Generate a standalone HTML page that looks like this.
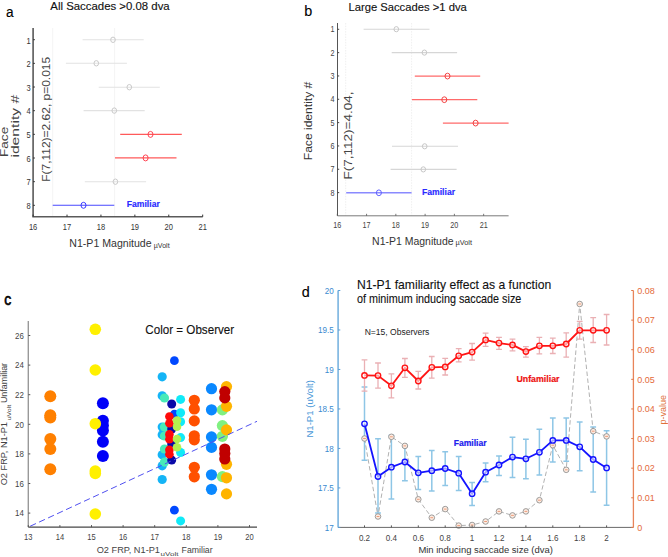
<!DOCTYPE html>
<html><head><meta charset="utf-8"><style>
html,body{margin:0;padding:0;background:#fff;width:668px;height:557px;overflow:hidden}
svg{display:block}
text{font-family:"Liberation Sans", sans-serif}
</style></head><body>
<svg width="668" height="557" viewBox="0 0 668 557">
<rect width="668" height="557" fill="#fff"/>
<line x1="52.7" y1="28" x2="52.7" y2="216" stroke="#f0f0f0" stroke-width="0.8" />
<line x1="114.6" y1="28" x2="114.6" y2="216" stroke="#f0f0f0" stroke-width="0.8" />
<line x1="82.6" y1="39.8" x2="143.7" y2="39.8" stroke="#e2e2e2" stroke-width="1.1" />
<ellipse cx="113" cy="39.8" rx="2.3" ry="2.7" fill="none" stroke="#c6c6c6" stroke-width="0.95"/>
<line x1="65.9" y1="63.3" x2="126.9" y2="63.3" stroke="#e2e2e2" stroke-width="1.1" />
<ellipse cx="96.3" cy="63.3" rx="2.3" ry="2.7" fill="none" stroke="#c6c6c6" stroke-width="0.95"/>
<line x1="98.7" y1="87.2" x2="159.8" y2="87.2" stroke="#e2e2e2" stroke-width="1.1" />
<ellipse cx="129.3" cy="87.2" rx="2.3" ry="2.7" fill="none" stroke="#c6c6c6" stroke-width="0.95"/>
<line x1="83.6" y1="110.6" x2="144.7" y2="110.6" stroke="#e2e2e2" stroke-width="1.1" />
<ellipse cx="114.3" cy="110.6" rx="2.3" ry="2.7" fill="none" stroke="#c6c6c6" stroke-width="0.95"/>
<line x1="120.2" y1="134.4" x2="181.8" y2="134.4" stroke="#ff5a5a" stroke-width="1.1" />
<ellipse cx="150.5" cy="134.4" rx="2.5" ry="3.0" fill="none" stroke="#ff3a4a" stroke-width="0.95"/>
<line x1="115" y1="157.9" x2="176.5" y2="157.9" stroke="#ff5a5a" stroke-width="1.1" />
<ellipse cx="145.6" cy="157.9" rx="2.5" ry="3.0" fill="none" stroke="#ff3a4a" stroke-width="0.95"/>
<line x1="84.8" y1="181.7" x2="146.1" y2="181.7" stroke="#e2e2e2" stroke-width="1.1" />
<ellipse cx="115.4" cy="181.7" rx="2.3" ry="2.7" fill="none" stroke="#c6c6c6" stroke-width="0.95"/>
<line x1="52.7" y1="205.3" x2="114.3" y2="205.3" stroke="#4848ff" stroke-width="1.1" />
<ellipse cx="83.5" cy="205.3" rx="2.5" ry="3.0" fill="none" stroke="#3030ff" stroke-width="0.95"/>
<path d="M33.1 28 V216.8 H202.7" fill="none" stroke="#5a5a5a" stroke-width="1.6"/>
<line x1="33.1" y1="39.7" x2="34.9" y2="39.7" stroke="#333" stroke-width="1" />
<text x="30.6" y="43.5" font-size="9.4" fill="#333" text-anchor="end" textLength="4.18" lengthAdjust="spacingAndGlyphs" >1</text>
<line x1="33.1" y1="63.36" x2="34.9" y2="63.36" stroke="#333" stroke-width="1" />
<text x="30.6" y="67.16" font-size="9.4" fill="#333" text-anchor="end" textLength="4.18" lengthAdjust="spacingAndGlyphs" >2</text>
<line x1="33.1" y1="87.02000000000001" x2="34.9" y2="87.02000000000001" stroke="#333" stroke-width="1" />
<text x="30.6" y="90.82000000000001" font-size="9.4" fill="#333" text-anchor="end" textLength="4.18" lengthAdjust="spacingAndGlyphs" >3</text>
<line x1="33.1" y1="110.68" x2="34.9" y2="110.68" stroke="#333" stroke-width="1" />
<text x="30.6" y="114.48" font-size="9.4" fill="#333" text-anchor="end" textLength="4.18" lengthAdjust="spacingAndGlyphs" >4</text>
<line x1="33.1" y1="134.34" x2="34.9" y2="134.34" stroke="#333" stroke-width="1" />
<text x="30.6" y="138.14000000000001" font-size="9.4" fill="#333" text-anchor="end" textLength="4.18" lengthAdjust="spacingAndGlyphs" >5</text>
<line x1="33.1" y1="158.0" x2="34.9" y2="158.0" stroke="#333" stroke-width="1" />
<text x="30.6" y="161.8" font-size="9.4" fill="#333" text-anchor="end" textLength="4.18" lengthAdjust="spacingAndGlyphs" >6</text>
<line x1="33.1" y1="181.66000000000003" x2="34.9" y2="181.66000000000003" stroke="#333" stroke-width="1" />
<text x="30.6" y="185.46000000000004" font-size="9.4" fill="#333" text-anchor="end" textLength="4.18" lengthAdjust="spacingAndGlyphs" >7</text>
<line x1="33.1" y1="205.32" x2="34.9" y2="205.32" stroke="#333" stroke-width="1" />
<text x="30.6" y="209.12" font-size="9.4" fill="#333" text-anchor="end" textLength="4.18" lengthAdjust="spacingAndGlyphs" >8</text>
<line x1="33.1" y1="216.8" x2="33.1" y2="214.60000000000002" stroke="#333" stroke-width="1" />
<text x="33.1" y="229.5" font-size="9.2" fill="#333" text-anchor="middle" textLength="8.39" lengthAdjust="spacingAndGlyphs" >16</text>
<line x1="67.02000000000001" y1="216.8" x2="67.02000000000001" y2="214.60000000000002" stroke="#333" stroke-width="1" />
<text x="67.02000000000001" y="229.5" font-size="9.2" fill="#333" text-anchor="middle" textLength="8.39" lengthAdjust="spacingAndGlyphs" >17</text>
<line x1="100.94" y1="216.8" x2="100.94" y2="214.60000000000002" stroke="#333" stroke-width="1" />
<text x="100.94" y="229.5" font-size="9.2" fill="#333" text-anchor="middle" textLength="8.39" lengthAdjust="spacingAndGlyphs" >18</text>
<line x1="134.86" y1="216.8" x2="134.86" y2="214.60000000000002" stroke="#333" stroke-width="1" />
<text x="134.86" y="229.5" font-size="9.2" fill="#333" text-anchor="middle" textLength="8.39" lengthAdjust="spacingAndGlyphs" >19</text>
<line x1="168.78" y1="216.8" x2="168.78" y2="214.60000000000002" stroke="#333" stroke-width="1" />
<text x="168.78" y="229.5" font-size="9.2" fill="#333" text-anchor="middle" textLength="8.39" lengthAdjust="spacingAndGlyphs" >20</text>
<line x1="202.70000000000002" y1="216.8" x2="202.70000000000002" y2="214.60000000000002" stroke="#333" stroke-width="1" />
<text x="202.70000000000002" y="229.5" font-size="9.2" fill="#333" text-anchor="middle" textLength="8.39" lengthAdjust="spacingAndGlyphs" >21</text>
<text x="6.0" y="16.8" font-size="15.5" fill="#000" text-anchor="start" stroke="#000" stroke-width="0.12" textLength="7.6" lengthAdjust="spacingAndGlyphs" >a</text>
<text x="50.3" y="9.9" font-size="10.8" fill="#111" text-anchor="start" stroke="#111" stroke-width="0.12" textLength="119.4" lengthAdjust="spacingAndGlyphs" >All Saccades &gt;0.08 dva</text>
<text x="69.3" y="246.5" font-size="10.5" fill="#333" text-anchor="start" textLength="82.3" lengthAdjust="spacingAndGlyphs" >N1-P1 Magnitude</text>
<text x="153.8" y="247.6" font-size="6.4" fill="#333" text-anchor="start" textLength="15.8" lengthAdjust="spacingAndGlyphs" >µVolt</text>
<text x="49.6" y="181.8" font-size="11.4" fill="#444" text-anchor="start" textLength="125" lengthAdjust="spacingAndGlyphs" transform="rotate(-90 49.6 181.8)" >F(7,112)=2.62, p=0.015</text>
<text x="7.8" y="157.0" font-size="10" fill="#444" text-anchor="start" textLength="30.2" lengthAdjust="spacingAndGlyphs" transform="rotate(-90 7.8 157.0)" >Face</text>
<text x="19.3" y="157.6" font-size="10" fill="#444" text-anchor="start" textLength="62.8" lengthAdjust="spacingAndGlyphs" transform="rotate(-90 19.3 157.6)" >identity #</text>
<text x="126.7" y="206.8" font-size="9.4" fill="#2a2aff" text-anchor="start" stroke="#2a2aff" stroke-width="0.15" font-weight="bold" textLength="33.1" lengthAdjust="spacingAndGlyphs" >Familiar</text>
<line x1="345.7" y1="23" x2="345.7" y2="215.5" stroke="#ebebeb" stroke-width="0.8" stroke-dasharray="1.5 1.2"/>
<line x1="411.6" y1="23" x2="411.6" y2="215.5" stroke="#ebebeb" stroke-width="0.8" stroke-dasharray="1.5 1.2"/>
<line x1="363.6" y1="29.2" x2="429.5" y2="29.2" stroke="#d6d6d6" stroke-width="1.1" />
<ellipse cx="396.3" cy="29.2" rx="2.3" ry="2.6" fill="none" stroke="#c4c4c4" stroke-width="0.95"/>
<line x1="391.7" y1="52.6" x2="457.1" y2="52.6" stroke="#d6d6d6" stroke-width="1.1" />
<ellipse cx="424.4" cy="52.6" rx="2.3" ry="2.6" fill="none" stroke="#c4c4c4" stroke-width="0.95"/>
<line x1="414.8" y1="76.1" x2="480.2" y2="76.1" stroke="#ff6a6a" stroke-width="1.3" />
<ellipse cx="447.5" cy="76.1" rx="2.5" ry="2.9" fill="none" stroke="#f03a3a" stroke-width="0.95"/>
<line x1="411.9" y1="99.7" x2="477.3" y2="99.7" stroke="#ff6a6a" stroke-width="1.3" />
<ellipse cx="444.3" cy="99.7" rx="2.5" ry="2.9" fill="none" stroke="#f03a3a" stroke-width="0.95"/>
<line x1="442.9" y1="123.1" x2="508.6" y2="123.1" stroke="#ff6a6a" stroke-width="1.3" />
<ellipse cx="475.6" cy="123.1" rx="2.5" ry="2.9" fill="none" stroke="#f03a3a" stroke-width="0.95"/>
<line x1="392" y1="146.3" x2="458" y2="146.3" stroke="#d6d6d6" stroke-width="1.1" />
<ellipse cx="424.7" cy="146.3" rx="2.3" ry="2.6" fill="none" stroke="#c4c4c4" stroke-width="0.95"/>
<line x1="390.6" y1="169.4" x2="456.6" y2="169.4" stroke="#d6d6d6" stroke-width="1.1" />
<ellipse cx="423.3" cy="169.4" rx="2.3" ry="2.6" fill="none" stroke="#c4c4c4" stroke-width="0.95"/>
<line x1="346.2" y1="192.8" x2="411.6" y2="192.8" stroke="#8a8aff" stroke-width="1.6" />
<ellipse cx="378.9" cy="192.8" rx="2.5" ry="2.9" fill="none" stroke="#5a5aff" stroke-width="0.95"/>
<path d="M337.5 23 V215.8" fill="none" stroke="#555" stroke-width="1"/>
<path d="M337.5 215.8 H508.6" fill="none" stroke="#7a7a7a" stroke-width="1"/>
<line x1="337.5" y1="29.3" x2="339.2" y2="29.3" stroke="#444" stroke-width="1" />
<text x="334.6" y="32.3" font-size="8.4" fill="#444" text-anchor="end" textLength="4.02" lengthAdjust="spacingAndGlyphs" >1</text>
<line x1="337.5" y1="52.629999999999995" x2="339.2" y2="52.629999999999995" stroke="#444" stroke-width="1" />
<text x="334.6" y="55.629999999999995" font-size="8.4" fill="#444" text-anchor="end" textLength="4.02" lengthAdjust="spacingAndGlyphs" >2</text>
<line x1="337.5" y1="75.96" x2="339.2" y2="75.96" stroke="#444" stroke-width="1" />
<text x="334.6" y="78.96" font-size="8.4" fill="#444" text-anchor="end" textLength="4.02" lengthAdjust="spacingAndGlyphs" >3</text>
<line x1="337.5" y1="99.28999999999999" x2="339.2" y2="99.28999999999999" stroke="#444" stroke-width="1" />
<text x="334.6" y="102.28999999999999" font-size="8.4" fill="#444" text-anchor="end" textLength="4.02" lengthAdjust="spacingAndGlyphs" >4</text>
<line x1="337.5" y1="122.61999999999999" x2="339.2" y2="122.61999999999999" stroke="#444" stroke-width="1" />
<text x="334.6" y="125.61999999999999" font-size="8.4" fill="#444" text-anchor="end" textLength="4.02" lengthAdjust="spacingAndGlyphs" >5</text>
<line x1="337.5" y1="145.95" x2="339.2" y2="145.95" stroke="#444" stroke-width="1" />
<text x="334.6" y="148.95" font-size="8.4" fill="#444" text-anchor="end" textLength="4.02" lengthAdjust="spacingAndGlyphs" >6</text>
<line x1="337.5" y1="169.28" x2="339.2" y2="169.28" stroke="#444" stroke-width="1" />
<text x="334.6" y="172.28" font-size="8.4" fill="#444" text-anchor="end" textLength="4.02" lengthAdjust="spacingAndGlyphs" >7</text>
<line x1="337.5" y1="192.61" x2="339.2" y2="192.61" stroke="#444" stroke-width="1" />
<text x="334.6" y="195.61" font-size="8.4" fill="#444" text-anchor="end" textLength="4.02" lengthAdjust="spacingAndGlyphs" >8</text>
<line x1="337.3" y1="215.8" x2="337.3" y2="213.8" stroke="#555" stroke-width="0.8" />
<text x="337.3" y="228.4" font-size="8.4" fill="#444" text-anchor="middle" textLength="8.03" lengthAdjust="spacingAndGlyphs" >16</text>
<line x1="366.57" y1="215.8" x2="366.57" y2="213.8" stroke="#555" stroke-width="0.8" />
<text x="366.57" y="228.4" font-size="8.4" fill="#444" text-anchor="middle" textLength="8.03" lengthAdjust="spacingAndGlyphs" >17</text>
<line x1="395.84000000000003" y1="215.8" x2="395.84000000000003" y2="213.8" stroke="#555" stroke-width="0.8" />
<text x="395.84000000000003" y="228.4" font-size="8.4" fill="#444" text-anchor="middle" textLength="8.03" lengthAdjust="spacingAndGlyphs" >18</text>
<line x1="425.11" y1="215.8" x2="425.11" y2="213.8" stroke="#555" stroke-width="0.8" />
<text x="425.11" y="228.4" font-size="8.4" fill="#444" text-anchor="middle" textLength="8.03" lengthAdjust="spacingAndGlyphs" >19</text>
<line x1="454.38" y1="215.8" x2="454.38" y2="213.8" stroke="#555" stroke-width="0.8" />
<text x="454.38" y="228.4" font-size="8.4" fill="#444" text-anchor="middle" textLength="8.03" lengthAdjust="spacingAndGlyphs" >20</text>
<line x1="483.65" y1="215.8" x2="483.65" y2="213.8" stroke="#555" stroke-width="0.8" />
<text x="483.65" y="228.4" font-size="8.4" fill="#444" text-anchor="middle" textLength="8.03" lengthAdjust="spacingAndGlyphs" >21</text>
<text x="304.3" y="15.7" font-size="15.5" fill="#000" text-anchor="start" stroke="#000" stroke-width="0.12" textLength="8.0" lengthAdjust="spacingAndGlyphs" >b</text>
<text x="348.4" y="10.9" font-size="10.8" fill="#111" text-anchor="start" stroke="#111" stroke-width="0.12" textLength="118.4" lengthAdjust="spacingAndGlyphs" >Large Saccades &gt;1 dva</text>
<text x="372.1" y="244.6" font-size="10.5" fill="#333" text-anchor="start" textLength="81.5" lengthAdjust="spacingAndGlyphs" >N1-P1 Magnitude</text>
<text x="455.5" y="245.4" font-size="6.4" fill="#333" text-anchor="start" textLength="16.5" lengthAdjust="spacingAndGlyphs" >µVolt</text>
<text x="351.9" y="179.4" font-size="10.6" fill="#444" text-anchor="start" textLength="87.8" lengthAdjust="spacingAndGlyphs" transform="rotate(-90 351.9 179.4)" >F(7,112)=4.04,</text>
<text x="312.2" y="160.2" font-size="11" fill="#333" text-anchor="start" textLength="78.5" lengthAdjust="spacingAndGlyphs" transform="rotate(-90 312.2 160.2)" >Face identity #</text>
<text x="421.9" y="194.9" font-size="9.4" fill="#2a2aff" text-anchor="start" stroke="#2a2aff" stroke-width="0.15" font-weight="bold" textLength="33.2" lengthAdjust="spacingAndGlyphs" >Familiar</text>
<circle cx="50.3" cy="396.2" r="6.0" fill="#ff8000"/>
<circle cx="50.3" cy="415.2" r="6.0" fill="#ff8000"/>
<circle cx="50.3" cy="417.5" r="6.0" fill="#ff8000"/>
<circle cx="50.3" cy="438.9" r="6.0" fill="#ff8000"/>
<circle cx="50.3" cy="449.1" r="6.0" fill="#ff8000"/>
<circle cx="50.3" cy="469.2" r="6.0" fill="#ff8000"/>
<circle cx="95.3" cy="329.3" r="5.8" fill="#fff000"/>
<circle cx="95.3" cy="370.0" r="5.8" fill="#fff000"/>
<circle cx="95.3" cy="471.0" r="5.8" fill="#fff000"/>
<circle cx="95.3" cy="473.4" r="5.8" fill="#fff000"/>
<circle cx="95.3" cy="514.0" r="5.8" fill="#fff000"/>
<circle cx="102.9" cy="403.3" r="6.0" fill="#0000f8"/>
<circle cx="102.9" cy="420.8" r="6.0" fill="#0000f8"/>
<circle cx="102.9" cy="425.5" r="6.0" fill="#0000f8"/>
<circle cx="102.9" cy="430.5" r="6.0" fill="#0000f8"/>
<circle cx="102.9" cy="441.8" r="6.0" fill="#0000f8"/>
<circle cx="102.9" cy="456.1" r="6.0" fill="#0000f8"/>
<circle cx="95.3" cy="423.7" r="5.8" fill="#fff000"/>
<circle cx="162.2" cy="376.8" r="4.6" fill="#14b4f6"/>
<circle cx="162.2" cy="395.8" r="4.6" fill="#14b4f6"/>
<circle cx="162.2" cy="427.0" r="4.6" fill="#14b4f6"/>
<circle cx="162.2" cy="434.8" r="4.6" fill="#14b4f6"/>
<circle cx="162.2" cy="454.8" r="4.6" fill="#14b4f6"/>
<circle cx="162.2" cy="465.8" r="4.6" fill="#14b4f6"/>
<circle cx="162.2" cy="479.5" r="4.6" fill="#14b4f6"/>
<circle cx="164.5" cy="398.0" r="4.6" fill="#48eab8"/>
<circle cx="164.5" cy="427.1" r="4.6" fill="#48eab8"/>
<circle cx="164.5" cy="436.0" r="4.6" fill="#48eab8"/>
<circle cx="164.5" cy="449.0" r="4.6" fill="#48eab8"/>
<circle cx="164.5" cy="462.1" r="4.6" fill="#48eab8"/>
<circle cx="171.7" cy="404.0" r="4.5" fill="#0a0aa8"/>
<circle cx="171.7" cy="429.0" r="4.5" fill="#0a0aa8"/>
<circle cx="171.7" cy="444.0" r="4.5" fill="#0a0aa8"/>
<circle cx="171.7" cy="460.1" r="4.5" fill="#0a0aa8"/>
<circle cx="174.4" cy="360.7" r="4.4" fill="#0048ff"/>
<circle cx="174.4" cy="414.2" r="4.4" fill="#0048ff"/>
<circle cx="174.4" cy="510.2" r="4.4" fill="#0048ff"/>
<circle cx="169.4" cy="416.5" r="4.3" fill="#ff0a0a"/>
<circle cx="169.4" cy="423.2" r="4.3" fill="#ff0a0a"/>
<circle cx="169.4" cy="434.4" r="4.3" fill="#ff0a0a"/>
<circle cx="169.4" cy="439.2" r="4.3" fill="#ff0a0a"/>
<circle cx="169.4" cy="449.7" r="4.3" fill="#ff0a0a"/>
<circle cx="169.4" cy="454.3" r="4.3" fill="#ff0a0a"/>
<circle cx="180.6" cy="399.4" r="4.5" fill="#10eaf8"/>
<circle cx="180.6" cy="412.8" r="4.5" fill="#10eaf8"/>
<circle cx="180.6" cy="421.7" r="4.5" fill="#10eaf8"/>
<circle cx="180.6" cy="437.6" r="4.5" fill="#10eaf8"/>
<circle cx="180.6" cy="452.5" r="4.5" fill="#10eaf8"/>
<circle cx="180.6" cy="520.9" r="4.5" fill="#10eaf8"/>
<circle cx="177.0" cy="420.6" r="4.3" fill="#b4f050"/>
<circle cx="177.0" cy="426.8" r="4.3" fill="#b4f050"/>
<circle cx="177.0" cy="439.0" r="4.3" fill="#b4f050"/>
<circle cx="177.0" cy="447.2" r="4.3" fill="#b4f050"/>
<circle cx="194.3" cy="400.3" r="5.6" fill="#ff5000"/>
<circle cx="194.3" cy="409.0" r="5.6" fill="#ff5000"/>
<circle cx="194.3" cy="420.9" r="5.6" fill="#ff5000"/>
<circle cx="194.3" cy="435.8" r="5.6" fill="#ff5000"/>
<circle cx="194.3" cy="439.8" r="5.6" fill="#ff5000"/>
<circle cx="194.3" cy="467.3" r="5.6" fill="#ff5000"/>
<circle cx="194.3" cy="476.8" r="5.6" fill="#ff5000"/>
<circle cx="211.5" cy="388.7" r="5.6" fill="#0a88ff"/>
<circle cx="211.5" cy="409.8" r="5.6" fill="#0a88ff"/>
<circle cx="211.5" cy="436.9" r="5.6" fill="#0a88ff"/>
<circle cx="211.5" cy="447.4" r="5.6" fill="#0a88ff"/>
<circle cx="211.5" cy="474.8" r="5.6" fill="#0a88ff"/>
<circle cx="211.5" cy="489.3" r="5.6" fill="#0a88ff"/>
<circle cx="222.4" cy="409.9" r="5.6" fill="#80f080"/>
<circle cx="222.4" cy="425.6" r="5.6" fill="#80f080"/>
<circle cx="222.4" cy="436.3" r="5.6" fill="#80f080"/>
<circle cx="222.4" cy="476.6" r="5.6" fill="#80f080"/>
<circle cx="226.5" cy="386.6" r="5.6" fill="#ffb400"/>
<circle cx="226.5" cy="406.3" r="5.6" fill="#ffb400"/>
<circle cx="226.5" cy="429.9" r="5.6" fill="#ffb400"/>
<circle cx="226.5" cy="464.3" r="5.6" fill="#ffb400"/>
<circle cx="226.5" cy="477.8" r="5.6" fill="#ffb400"/>
<circle cx="226.5" cy="493.9" r="5.6" fill="#ffb400"/>
<circle cx="224.8" cy="391.6" r="5.6" fill="#c00000"/>
<circle cx="224.8" cy="397.9" r="5.6" fill="#c00000"/>
<circle cx="224.8" cy="449.0" r="5.6" fill="#c00000"/>
<circle cx="224.8" cy="453.5" r="5.6" fill="#c00000"/>
<circle cx="224.8" cy="459.0" r="5.6" fill="#c00000"/>
<line x1="28.3" y1="527.1" x2="257" y2="421.3" stroke="#5050f0" stroke-width="1" stroke-dasharray="6.4 3.5" stroke-dashoffset="-2"/>
<path d="M28.3 321 V527.1" stroke="#999" stroke-width="1.4" fill="none"/>
<path d="M28.3 527.1 H257" stroke="#474747" stroke-width="1.3" fill="none"/>
<line x1="28.3" y1="513.1" x2="30.3" y2="513.1" stroke="#555" stroke-width="1" />
<text x="23.9" y="516.4" font-size="9.2" fill="#444" text-anchor="end" textLength="8.8" lengthAdjust="spacingAndGlyphs" >14</text>
<line x1="28.3" y1="483.5" x2="30.3" y2="483.5" stroke="#555" stroke-width="1" />
<text x="23.9" y="486.8" font-size="9.2" fill="#444" text-anchor="end" textLength="8.8" lengthAdjust="spacingAndGlyphs" >16</text>
<line x1="28.3" y1="453.90000000000003" x2="30.3" y2="453.90000000000003" stroke="#555" stroke-width="1" />
<text x="23.9" y="457.20000000000005" font-size="9.2" fill="#444" text-anchor="end" textLength="8.8" lengthAdjust="spacingAndGlyphs" >18</text>
<line x1="28.3" y1="424.3" x2="30.3" y2="424.3" stroke="#555" stroke-width="1" />
<text x="23.9" y="427.6" font-size="9.2" fill="#444" text-anchor="end" textLength="8.8" lengthAdjust="spacingAndGlyphs" >20</text>
<line x1="28.3" y1="394.70000000000005" x2="30.3" y2="394.70000000000005" stroke="#555" stroke-width="1" />
<text x="23.9" y="398.00000000000006" font-size="9.2" fill="#444" text-anchor="end" textLength="8.8" lengthAdjust="spacingAndGlyphs" >22</text>
<line x1="28.3" y1="365.1" x2="30.3" y2="365.1" stroke="#555" stroke-width="1" />
<text x="23.9" y="368.40000000000003" font-size="9.2" fill="#444" text-anchor="end" textLength="8.8" lengthAdjust="spacingAndGlyphs" >24</text>
<line x1="28.3" y1="335.5" x2="30.3" y2="335.5" stroke="#555" stroke-width="1" />
<text x="23.9" y="338.8" font-size="9.2" fill="#444" text-anchor="end" textLength="8.8" lengthAdjust="spacingAndGlyphs" >26</text>
<line x1="28.3" y1="527.1" x2="28.3" y2="525.1" stroke="#555" stroke-width="1" />
<text x="28.3" y="539.9" font-size="8.8" fill="#444" text-anchor="middle" textLength="8.42" lengthAdjust="spacingAndGlyphs" >13</text>
<line x1="59.900000000000006" y1="527.1" x2="59.900000000000006" y2="525.1" stroke="#555" stroke-width="1" />
<text x="59.900000000000006" y="539.9" font-size="8.8" fill="#444" text-anchor="middle" textLength="8.42" lengthAdjust="spacingAndGlyphs" >14</text>
<line x1="91.5" y1="527.1" x2="91.5" y2="525.1" stroke="#555" stroke-width="1" />
<text x="91.5" y="539.9" font-size="8.8" fill="#444" text-anchor="middle" textLength="8.42" lengthAdjust="spacingAndGlyphs" >15</text>
<line x1="123.10000000000001" y1="527.1" x2="123.10000000000001" y2="525.1" stroke="#555" stroke-width="1" />
<text x="123.10000000000001" y="539.9" font-size="8.8" fill="#444" text-anchor="middle" textLength="8.42" lengthAdjust="spacingAndGlyphs" >16</text>
<line x1="154.70000000000002" y1="527.1" x2="154.70000000000002" y2="525.1" stroke="#555" stroke-width="1" />
<text x="154.70000000000002" y="539.9" font-size="8.8" fill="#444" text-anchor="middle" textLength="8.42" lengthAdjust="spacingAndGlyphs" >17</text>
<line x1="186.3" y1="527.1" x2="186.3" y2="525.1" stroke="#555" stroke-width="1" />
<text x="186.3" y="539.9" font-size="8.8" fill="#444" text-anchor="middle" textLength="8.42" lengthAdjust="spacingAndGlyphs" >18</text>
<line x1="217.90000000000003" y1="527.1" x2="217.90000000000003" y2="525.1" stroke="#555" stroke-width="1" />
<text x="217.90000000000003" y="539.9" font-size="8.8" fill="#444" text-anchor="middle" textLength="8.42" lengthAdjust="spacingAndGlyphs" >19</text>
<line x1="249.50000000000003" y1="527.1" x2="249.50000000000003" y2="525.1" stroke="#555" stroke-width="1" />
<text x="249.50000000000003" y="539.9" font-size="8.8" fill="#444" text-anchor="middle" textLength="8.42" lengthAdjust="spacingAndGlyphs" >20</text>
<text x="4.3" y="304.6" font-size="15.8" fill="#000" text-anchor="start" stroke="#000" stroke-width="0.6" textLength="7.0" lengthAdjust="spacingAndGlyphs" >c</text>
<text x="145.3" y="334.2" font-size="12.4" fill="#111" text-anchor="start" stroke="#111" stroke-width="0.12" textLength="88.9" lengthAdjust="spacingAndGlyphs" >Color = Observer</text>
<text x="96.7" y="552.7" font-size="8.6" fill="#444" text-anchor="start" textLength="63.3" lengthAdjust="spacingAndGlyphs" >O2 FRP, N1-P1</text>
<text x="160.6" y="556.2" font-size="6.2" fill="#444" text-anchor="start" textLength="17.8" lengthAdjust="spacingAndGlyphs" >uVolt</text>
<text x="181.6" y="552.7" font-size="8.6" fill="#444" text-anchor="start" textLength="31" lengthAdjust="spacingAndGlyphs" >Familiar</text>
<text x="6.6" y="485.3" font-size="8.6" fill="#444" text-anchor="start" textLength="63.3" lengthAdjust="spacingAndGlyphs" transform="rotate(-90 6.6 485.3)" >O2 FRP, N1-P1</text>
<text x="10.6" y="420.3" font-size="6.2" fill="#444" text-anchor="start" textLength="15.5" lengthAdjust="spacingAndGlyphs" transform="rotate(-90 10.6 420.3)" >uVolt</text>
<text x="6.6" y="403.1" font-size="8.6" fill="#444" text-anchor="start" textLength="40.2" lengthAdjust="spacingAndGlyphs" transform="rotate(-90 6.6 403.1)" >Unfamiliar</text>
<path d="M364.5 386.9V460.3M361.6 386.9H367.4M361.6 460.3H367.4M378.0 438.8V513M375.1 438.8H380.9M375.1 513H380.9M391.4 435.5V499.1M388.5 435.5H394.3M388.5 499.1H394.3M404.9 445.2V480.8M402.0 445.2H407.8M402.0 480.8H407.8M418.3 456.4V489.4M415.4 456.4H421.2M415.4 489.4H421.2M431.8 450.6V490.9M428.9 450.6H434.6M428.9 490.9H434.6M445.2 451.7V485.5M442.3 451.7H448.1M442.3 485.5H448.1M458.7 456.4V490.5M455.8 456.4H461.6M455.8 490.5H461.6M472.1 482.5V505.5M469.2 482.5H475.0M469.2 505.5H475.0M485.6 463.1V481.8M482.7 463.1H488.5M482.7 481.8H488.5M499.0 455.9V475.6M496.1 455.9H501.9M496.1 475.6H501.9M512.5 437.2V477.5M509.6 437.2H515.4M509.6 477.5H515.4M525.9 439.2V478.7M523.0 439.2H528.8M523.0 478.7H528.8M539.4 429.3V475.1M536.5 429.3H542.2M536.5 475.1H542.2M552.8 418.1V461.9M549.9 418.1H555.7M549.9 461.9H555.7M566.2 418.1V461.2M563.4 418.1H569.1M563.4 461.2H569.1M579.7 421.9V470.8M576.8 421.9H582.6M576.8 470.8H582.6M593.2 427.1V491.9M590.3 427.1H596.1M590.3 491.9H596.1M606.6 430.7V505.3M603.7 430.7H609.5M603.7 505.3H609.5" stroke="#8ec6e6" stroke-width="1.5" fill="none"/>
<path d="M364.5 359.8V391.2M361.6 359.8H367.4M361.6 391.2H367.4M378.0 363V388.1M375.1 363H380.9M375.1 388.1H380.9M391.4 373.8V397.8M388.5 373.8H394.3M388.5 397.8H394.3M404.9 358.5V377.4M402.0 358.5H407.8M402.0 377.4H407.8M418.3 371.4V389M415.4 371.4H421.2M415.4 389H421.2M431.8 356.5V378.1M428.9 356.5H434.6M428.9 378.1H434.6M445.2 358.3V375M442.3 358.3H448.1M442.3 375H448.1M458.7 348.6V361.9M455.8 348.6H461.6M455.8 361.9H461.6M472.1 343.5V360.2M469.2 343.5H475.0M469.2 360.2H475.0M485.6 333.2V346.3M482.7 333.2H488.5M482.7 346.3H488.5M499.0 337.4V349.4M496.1 337.4H501.9M496.1 349.4H501.9M512.5 339.2V350.8M509.6 339.2H515.4M509.6 350.8H515.4M525.9 346.7V357.1M523.0 346.7H528.8M523.0 357.1H528.8M539.4 337.4V353.9M536.5 337.4H542.2M536.5 353.9H542.2M552.8 338.1V353.5M549.9 338.1H555.7M549.9 353.5H555.7M566.2 332.9V357.1M563.4 332.9H569.1M563.4 357.1H569.1M579.7 321.3V339.2M576.8 321.3H582.6M576.8 339.2H582.6M593.2 317.7V342.5M590.3 317.7H596.1M590.3 342.5H596.1M606.6 314.5V345M603.7 314.5H609.5M603.7 345H609.5" stroke="#eab0b4" stroke-width="1.3" fill="none"/>
<polyline points="364.5,438.5 378.0,516.5 391.4,436.8 404.9,445.9 418.3,499.3 431.8,517.7 445.2,509.1 458.7,525.6 472.1,525.0 485.6,521.5 499.0,511.4 512.5,515.4 525.9,511.4 539.4,500.2 552.8,445.2 566.2,469.8 579.7,304.0 593.2,431.2 606.6,436.4" fill="none" stroke="#a8a8a8" stroke-width="0.9" stroke-dasharray="4.5 2.5"/>
<circle cx="364.5" cy="438.5" r="2.8" fill="#fcece2" stroke="#8c8c8c" stroke-width="0.85"/>
<line x1="363.1" y1="438.5" x2="365.9" y2="438.5" stroke="#ec9470" stroke-width="0.9"/>
<circle cx="378.0" cy="516.5" r="2.8" fill="#fcece2" stroke="#8c8c8c" stroke-width="0.85"/>
<line x1="376.6" y1="516.5" x2="379.4" y2="516.5" stroke="#ec9470" stroke-width="0.9"/>
<circle cx="391.4" cy="436.8" r="2.8" fill="#fcece2" stroke="#8c8c8c" stroke-width="0.85"/>
<line x1="390.0" y1="436.8" x2="392.8" y2="436.8" stroke="#ec9470" stroke-width="0.9"/>
<circle cx="404.9" cy="445.9" r="2.8" fill="#fcece2" stroke="#8c8c8c" stroke-width="0.85"/>
<line x1="403.5" y1="445.9" x2="406.2" y2="445.9" stroke="#ec9470" stroke-width="0.9"/>
<circle cx="418.3" cy="499.3" r="2.8" fill="#fcece2" stroke="#8c8c8c" stroke-width="0.85"/>
<line x1="416.9" y1="499.3" x2="419.7" y2="499.3" stroke="#ec9470" stroke-width="0.9"/>
<circle cx="431.8" cy="517.7" r="2.8" fill="#fcece2" stroke="#8c8c8c" stroke-width="0.85"/>
<line x1="430.4" y1="517.7" x2="433.1" y2="517.7" stroke="#ec9470" stroke-width="0.9"/>
<circle cx="445.2" cy="509.1" r="2.8" fill="#fcece2" stroke="#8c8c8c" stroke-width="0.85"/>
<line x1="443.8" y1="509.1" x2="446.6" y2="509.1" stroke="#ec9470" stroke-width="0.9"/>
<circle cx="458.7" cy="525.6" r="2.8" fill="#fcece2" stroke="#8c8c8c" stroke-width="0.85"/>
<line x1="457.3" y1="525.6" x2="460.1" y2="525.6" stroke="#ec9470" stroke-width="0.9"/>
<circle cx="472.1" cy="525.0" r="2.8" fill="#fcece2" stroke="#8c8c8c" stroke-width="0.85"/>
<line x1="470.7" y1="525.0" x2="473.5" y2="525.0" stroke="#ec9470" stroke-width="0.9"/>
<circle cx="485.6" cy="521.5" r="2.8" fill="#fcece2" stroke="#8c8c8c" stroke-width="0.85"/>
<line x1="484.2" y1="521.5" x2="487.0" y2="521.5" stroke="#ec9470" stroke-width="0.9"/>
<circle cx="499.0" cy="511.4" r="2.8" fill="#fcece2" stroke="#8c8c8c" stroke-width="0.85"/>
<line x1="497.6" y1="511.4" x2="500.4" y2="511.4" stroke="#ec9470" stroke-width="0.9"/>
<circle cx="512.5" cy="515.4" r="2.8" fill="#fcece2" stroke="#8c8c8c" stroke-width="0.85"/>
<line x1="511.1" y1="515.4" x2="513.9" y2="515.4" stroke="#ec9470" stroke-width="0.9"/>
<circle cx="525.9" cy="511.4" r="2.8" fill="#fcece2" stroke="#8c8c8c" stroke-width="0.85"/>
<line x1="524.5" y1="511.4" x2="527.3" y2="511.4" stroke="#ec9470" stroke-width="0.9"/>
<circle cx="539.4" cy="500.2" r="2.8" fill="#fcece2" stroke="#8c8c8c" stroke-width="0.85"/>
<line x1="538.0" y1="500.2" x2="540.8" y2="500.2" stroke="#ec9470" stroke-width="0.9"/>
<circle cx="552.8" cy="445.2" r="2.8" fill="#fcece2" stroke="#8c8c8c" stroke-width="0.85"/>
<line x1="551.4" y1="445.2" x2="554.2" y2="445.2" stroke="#ec9470" stroke-width="0.9"/>
<circle cx="566.2" cy="469.8" r="2.8" fill="#fcece2" stroke="#8c8c8c" stroke-width="0.85"/>
<line x1="564.9" y1="469.8" x2="567.6" y2="469.8" stroke="#ec9470" stroke-width="0.9"/>
<circle cx="579.7" cy="304.0" r="2.8" fill="#fcece2" stroke="#8c8c8c" stroke-width="0.85"/>
<line x1="578.3" y1="304.0" x2="581.1" y2="304.0" stroke="#ec9470" stroke-width="0.9"/>
<circle cx="593.2" cy="431.2" r="2.8" fill="#fcece2" stroke="#8c8c8c" stroke-width="0.85"/>
<line x1="591.8" y1="431.2" x2="594.6" y2="431.2" stroke="#ec9470" stroke-width="0.9"/>
<circle cx="606.6" cy="436.4" r="2.8" fill="#fcece2" stroke="#8c8c8c" stroke-width="0.85"/>
<line x1="605.2" y1="436.4" x2="608.0" y2="436.4" stroke="#ec9470" stroke-width="0.9"/>
<polyline points="364.5,375.4 378.0,375.6 391.4,385.8 404.9,367.8 418.3,381 431.8,367.3 445.2,366.9 458.7,355.8 472.1,352.1 485.6,339.9 499.0,343.1 512.5,344.9 525.9,351.6 539.4,345.8 552.8,345.8 566.2,344 579.7,330.3 593.2,330.3 606.6,330.3" fill="none" stroke="#ff1414" stroke-width="1.8" stroke-linejoin="round"/>
<circle cx="364.5" cy="375.4" r="2.7" fill="#fff" fill-opacity="0.6" stroke="#ff1414" stroke-width="1.4"/>
<circle cx="378.0" cy="375.6" r="2.7" fill="#fff" fill-opacity="0.6" stroke="#ff1414" stroke-width="1.4"/>
<circle cx="391.4" cy="385.8" r="2.7" fill="#fff" fill-opacity="0.6" stroke="#ff1414" stroke-width="1.4"/>
<circle cx="404.9" cy="367.8" r="2.7" fill="#fff" fill-opacity="0.6" stroke="#ff1414" stroke-width="1.4"/>
<circle cx="418.3" cy="381" r="2.7" fill="#fff" fill-opacity="0.6" stroke="#ff1414" stroke-width="1.4"/>
<circle cx="431.8" cy="367.3" r="2.7" fill="#fff" fill-opacity="0.6" stroke="#ff1414" stroke-width="1.4"/>
<circle cx="445.2" cy="366.9" r="2.7" fill="#fff" fill-opacity="0.6" stroke="#ff1414" stroke-width="1.4"/>
<circle cx="458.7" cy="355.8" r="2.7" fill="#fff" fill-opacity="0.6" stroke="#ff1414" stroke-width="1.4"/>
<circle cx="472.1" cy="352.1" r="2.7" fill="#fff" fill-opacity="0.6" stroke="#ff1414" stroke-width="1.4"/>
<circle cx="485.6" cy="339.9" r="2.7" fill="#fff" fill-opacity="0.6" stroke="#ff1414" stroke-width="1.4"/>
<circle cx="499.0" cy="343.1" r="2.7" fill="#fff" fill-opacity="0.6" stroke="#ff1414" stroke-width="1.4"/>
<circle cx="512.5" cy="344.9" r="2.7" fill="#fff" fill-opacity="0.6" stroke="#ff1414" stroke-width="1.4"/>
<circle cx="525.9" cy="351.6" r="2.7" fill="#fff" fill-opacity="0.6" stroke="#ff1414" stroke-width="1.4"/>
<circle cx="539.4" cy="345.8" r="2.7" fill="#fff" fill-opacity="0.6" stroke="#ff1414" stroke-width="1.4"/>
<circle cx="552.8" cy="345.8" r="2.7" fill="#fff" fill-opacity="0.6" stroke="#ff1414" stroke-width="1.4"/>
<circle cx="566.2" cy="344" r="2.7" fill="#fff" fill-opacity="0.6" stroke="#ff1414" stroke-width="1.4"/>
<circle cx="579.7" cy="330.3" r="2.7" fill="#fff" fill-opacity="0.6" stroke="#ff1414" stroke-width="1.4"/>
<circle cx="593.2" cy="330.3" r="2.7" fill="#fff" fill-opacity="0.6" stroke="#ff1414" stroke-width="1.4"/>
<circle cx="606.6" cy="330.3" r="2.7" fill="#fff" fill-opacity="0.6" stroke="#ff1414" stroke-width="1.4"/>
<polyline points="364.5,423.8 378.0,476.5 391.4,467.2 404.9,462 418.3,472.8 431.8,470.7 445.2,468.5 458.7,473.2 472.1,493.7 485.6,472.2 499.0,465 512.5,457.1 525.9,458.8 539.4,452.3 552.8,440.4 566.2,440.4 579.7,446.8 593.2,459.5 606.6,467.9" fill="none" stroke="#1414ff" stroke-width="1.8" stroke-linejoin="round"/>
<circle cx="364.5" cy="423.8" r="2.7" fill="#fff" fill-opacity="0.6" stroke="#1414ff" stroke-width="1.4"/>
<circle cx="378.0" cy="476.5" r="2.7" fill="#fff" fill-opacity="0.6" stroke="#1414ff" stroke-width="1.4"/>
<circle cx="391.4" cy="467.2" r="2.7" fill="#fff" fill-opacity="0.6" stroke="#1414ff" stroke-width="1.4"/>
<circle cx="404.9" cy="462" r="2.7" fill="#fff" fill-opacity="0.6" stroke="#1414ff" stroke-width="1.4"/>
<circle cx="418.3" cy="472.8" r="2.7" fill="#fff" fill-opacity="0.6" stroke="#1414ff" stroke-width="1.4"/>
<circle cx="431.8" cy="470.7" r="2.7" fill="#fff" fill-opacity="0.6" stroke="#1414ff" stroke-width="1.4"/>
<circle cx="445.2" cy="468.5" r="2.7" fill="#fff" fill-opacity="0.6" stroke="#1414ff" stroke-width="1.4"/>
<circle cx="458.7" cy="473.2" r="2.7" fill="#fff" fill-opacity="0.6" stroke="#1414ff" stroke-width="1.4"/>
<circle cx="472.1" cy="493.7" r="2.7" fill="#fff" fill-opacity="0.6" stroke="#1414ff" stroke-width="1.4"/>
<circle cx="485.6" cy="472.2" r="2.7" fill="#fff" fill-opacity="0.6" stroke="#1414ff" stroke-width="1.4"/>
<circle cx="499.0" cy="465" r="2.7" fill="#fff" fill-opacity="0.6" stroke="#1414ff" stroke-width="1.4"/>
<circle cx="512.5" cy="457.1" r="2.7" fill="#fff" fill-opacity="0.6" stroke="#1414ff" stroke-width="1.4"/>
<circle cx="525.9" cy="458.8" r="2.7" fill="#fff" fill-opacity="0.6" stroke="#1414ff" stroke-width="1.4"/>
<circle cx="539.4" cy="452.3" r="2.7" fill="#fff" fill-opacity="0.6" stroke="#1414ff" stroke-width="1.4"/>
<circle cx="552.8" cy="440.4" r="2.7" fill="#fff" fill-opacity="0.6" stroke="#1414ff" stroke-width="1.4"/>
<circle cx="566.2" cy="440.4" r="2.7" fill="#fff" fill-opacity="0.6" stroke="#1414ff" stroke-width="1.4"/>
<circle cx="579.7" cy="446.8" r="2.7" fill="#fff" fill-opacity="0.6" stroke="#1414ff" stroke-width="1.4"/>
<circle cx="593.2" cy="459.5" r="2.7" fill="#fff" fill-opacity="0.6" stroke="#1414ff" stroke-width="1.4"/>
<circle cx="606.6" cy="467.9" r="2.7" fill="#fff" fill-opacity="0.6" stroke="#1414ff" stroke-width="1.4"/>
<path d="M338.1 527.4 H633.4" stroke="#6a6a6a" stroke-width="1" fill="none"/>
<path d="M338.1 290.5 V527.4" stroke="#7ab4e0" stroke-width="1.6" fill="none"/>
<path d="M633.4 290.5 V527.4" stroke="#e8845a" stroke-width="1.3" fill="none"/>
<line x1="338.1" y1="527.4" x2="340.3" y2="527.4" stroke="#5a9ed6" stroke-width="1" />
<text x="333.8" y="530.6" font-size="8.8" fill="#3a8ad0" text-anchor="end" textLength="9.0" lengthAdjust="spacingAndGlyphs" >17</text>
<line x1="338.1" y1="487.91666666666663" x2="340.3" y2="487.91666666666663" stroke="#5a9ed6" stroke-width="1" />
<text x="333.8" y="491.1166666666666" font-size="8.8" fill="#3a8ad0" text-anchor="end" textLength="15.75" lengthAdjust="spacingAndGlyphs" >17.5</text>
<line x1="338.1" y1="448.43333333333334" x2="340.3" y2="448.43333333333334" stroke="#5a9ed6" stroke-width="1" />
<text x="333.8" y="451.6333333333333" font-size="8.8" fill="#3a8ad0" text-anchor="end" textLength="9.0" lengthAdjust="spacingAndGlyphs" >18</text>
<line x1="338.1" y1="408.95" x2="340.3" y2="408.95" stroke="#5a9ed6" stroke-width="1" />
<text x="333.8" y="412.15" font-size="8.8" fill="#3a8ad0" text-anchor="end" textLength="15.75" lengthAdjust="spacingAndGlyphs" >18.5</text>
<line x1="338.1" y1="369.4666666666667" x2="340.3" y2="369.4666666666667" stroke="#5a9ed6" stroke-width="1" />
<text x="333.8" y="372.6666666666667" font-size="8.8" fill="#3a8ad0" text-anchor="end" textLength="9.0" lengthAdjust="spacingAndGlyphs" >19</text>
<line x1="338.1" y1="329.98333333333335" x2="340.3" y2="329.98333333333335" stroke="#5a9ed6" stroke-width="1" />
<text x="333.8" y="333.18333333333334" font-size="8.8" fill="#3a8ad0" text-anchor="end" textLength="15.75" lengthAdjust="spacingAndGlyphs" >19.5</text>
<line x1="338.1" y1="290.5" x2="340.3" y2="290.5" stroke="#5a9ed6" stroke-width="1" />
<text x="333.8" y="293.7" font-size="8.8" fill="#3a8ad0" text-anchor="end" textLength="9.0" lengthAdjust="spacingAndGlyphs" >20</text>
<line x1="633.4" y1="527.4" x2="631.2" y2="527.4" stroke="#e07848" stroke-width="1" />
<text x="637.3" y="530.6" font-size="9.0" fill="#e46a3a" text-anchor="start" textLength="5.0" lengthAdjust="spacingAndGlyphs" >0</text>
<line x1="633.4" y1="497.78749999999997" x2="631.2" y2="497.78749999999997" stroke="#e07848" stroke-width="1" />
<text x="637.3" y="500.98749999999995" font-size="9.0" fill="#e46a3a" text-anchor="start" textLength="17.51" lengthAdjust="spacingAndGlyphs" >0.01</text>
<line x1="633.4" y1="468.17499999999995" x2="631.2" y2="468.17499999999995" stroke="#e07848" stroke-width="1" />
<text x="637.3" y="471.37499999999994" font-size="9.0" fill="#e46a3a" text-anchor="start" textLength="17.51" lengthAdjust="spacingAndGlyphs" >0.02</text>
<line x1="633.4" y1="438.5625" x2="631.2" y2="438.5625" stroke="#e07848" stroke-width="1" />
<text x="637.3" y="441.7625" font-size="9.0" fill="#e46a3a" text-anchor="start" textLength="17.51" lengthAdjust="spacingAndGlyphs" >0.03</text>
<line x1="633.4" y1="408.95" x2="631.2" y2="408.95" stroke="#e07848" stroke-width="1" />
<text x="637.3" y="412.15" font-size="9.0" fill="#e46a3a" text-anchor="start" textLength="17.51" lengthAdjust="spacingAndGlyphs" >0.04</text>
<line x1="633.4" y1="379.3375" x2="631.2" y2="379.3375" stroke="#e07848" stroke-width="1" />
<text x="637.3" y="382.53749999999997" font-size="9.0" fill="#e46a3a" text-anchor="start" textLength="17.51" lengthAdjust="spacingAndGlyphs" >0.05</text>
<line x1="633.4" y1="349.725" x2="631.2" y2="349.725" stroke="#e07848" stroke-width="1" />
<text x="637.3" y="352.925" font-size="9.0" fill="#e46a3a" text-anchor="start" textLength="17.51" lengthAdjust="spacingAndGlyphs" >0.06</text>
<line x1="633.4" y1="320.1125" x2="631.2" y2="320.1125" stroke="#e07848" stroke-width="1" />
<text x="637.3" y="323.3125" font-size="9.0" fill="#e46a3a" text-anchor="start" textLength="17.51" lengthAdjust="spacingAndGlyphs" >0.07</text>
<line x1="633.4" y1="290.5" x2="631.2" y2="290.5" stroke="#e07848" stroke-width="1" />
<text x="637.3" y="293.7" font-size="9.0" fill="#e46a3a" text-anchor="start" textLength="17.51" lengthAdjust="spacingAndGlyphs" >0.08</text>
<line x1="364.5" y1="527.4" x2="364.5" y2="525.4" stroke="#555" stroke-width="1" />
<text x="364.5" y="540.5" font-size="8.8" fill="#444" text-anchor="middle" textLength="11.25" lengthAdjust="spacingAndGlyphs" >0.2</text>
<line x1="391.40000000000003" y1="527.4" x2="391.40000000000003" y2="525.4" stroke="#555" stroke-width="1" />
<text x="391.40000000000003" y="540.5" font-size="8.8" fill="#444" text-anchor="middle" textLength="11.25" lengthAdjust="spacingAndGlyphs" >0.4</text>
<line x1="418.30000000000007" y1="527.4" x2="418.30000000000007" y2="525.4" stroke="#555" stroke-width="1" />
<text x="418.30000000000007" y="540.5" font-size="8.8" fill="#444" text-anchor="middle" textLength="11.25" lengthAdjust="spacingAndGlyphs" >0.6</text>
<line x1="445.20000000000005" y1="527.4" x2="445.20000000000005" y2="525.4" stroke="#555" stroke-width="1" />
<text x="445.20000000000005" y="540.5" font-size="8.8" fill="#444" text-anchor="middle" textLength="11.25" lengthAdjust="spacingAndGlyphs" >0.8</text>
<line x1="472.1" y1="527.4" x2="472.1" y2="525.4" stroke="#555" stroke-width="1" />
<text x="472.1" y="540.5" font-size="8.8" fill="#444" text-anchor="middle" textLength="4.5" lengthAdjust="spacingAndGlyphs" >1</text>
<line x1="499.00000000000006" y1="527.4" x2="499.00000000000006" y2="525.4" stroke="#555" stroke-width="1" />
<text x="499.00000000000006" y="540.5" font-size="8.8" fill="#444" text-anchor="middle" textLength="11.25" lengthAdjust="spacingAndGlyphs" >1.2</text>
<line x1="525.9000000000001" y1="527.4" x2="525.9000000000001" y2="525.4" stroke="#555" stroke-width="1" />
<text x="525.9000000000001" y="540.5" font-size="8.8" fill="#444" text-anchor="middle" textLength="11.25" lengthAdjust="spacingAndGlyphs" >1.4</text>
<line x1="552.8000000000001" y1="527.4" x2="552.8000000000001" y2="525.4" stroke="#555" stroke-width="1" />
<text x="552.8000000000001" y="540.5" font-size="8.8" fill="#444" text-anchor="middle" textLength="11.25" lengthAdjust="spacingAndGlyphs" >1.6</text>
<line x1="579.7" y1="527.4" x2="579.7" y2="525.4" stroke="#555" stroke-width="1" />
<text x="579.7" y="540.5" font-size="8.8" fill="#444" text-anchor="middle" textLength="11.25" lengthAdjust="spacingAndGlyphs" >1.8</text>
<line x1="606.6" y1="527.4" x2="606.6" y2="525.4" stroke="#555" stroke-width="1" />
<text x="606.6" y="540.5" font-size="8.8" fill="#444" text-anchor="middle" textLength="4.5" lengthAdjust="spacingAndGlyphs" >2</text>
<text x="301.8" y="296.8" font-size="15.5" fill="#000" text-anchor="start" stroke="#000" stroke-width="0.12" textLength="8.0" lengthAdjust="spacingAndGlyphs" >d</text>
<text x="356.9" y="289.1" font-size="13" fill="#111" text-anchor="start" stroke="#111" stroke-width="0.12" textLength="194.3" lengthAdjust="spacingAndGlyphs" >N1-P1 familiarity effect as a function</text>
<text x="356.9" y="302.7" font-size="13" fill="#111" text-anchor="start" stroke="#111" stroke-width="0.12" textLength="164.4" lengthAdjust="spacingAndGlyphs" >of minimum inducing saccade size</text>
<text x="364.7" y="335" font-size="8.4" fill="#222" text-anchor="start" textLength="64.7" lengthAdjust="spacingAndGlyphs" >N=15, Observers</text>
<text x="516.4" y="381.7" font-size="9.6" fill="#ee1010" text-anchor="start" stroke="#ee1010" stroke-width="0.2" font-weight="bold" textLength="43.1" lengthAdjust="spacingAndGlyphs" >Unfamiliar</text>
<text x="453.7" y="446.3" font-size="9.6" fill="#2020ee" text-anchor="start" stroke="#2020ee" stroke-width="0.2" font-weight="bold" textLength="32.9" lengthAdjust="spacingAndGlyphs" >Familiar</text>
<text x="418.4" y="552.6" font-size="9.2" fill="#333" text-anchor="start" textLength="134.4" lengthAdjust="spacingAndGlyphs" >Min inducing saccade size (dva)</text>
<text x="312.8" y="437.6" font-size="9" fill="#4a98d8" text-anchor="start" textLength="57.5" lengthAdjust="spacingAndGlyphs" transform="rotate(-90 312.8 437.6)" >N1-P1 (uVolt)</text>
<text x="666.0" y="424.4" font-size="8.8" fill="#e0703a" text-anchor="start" textLength="29.5" lengthAdjust="spacingAndGlyphs" transform="rotate(-90 666.0 424.4)" >p-value</text>
</svg></body></html>
